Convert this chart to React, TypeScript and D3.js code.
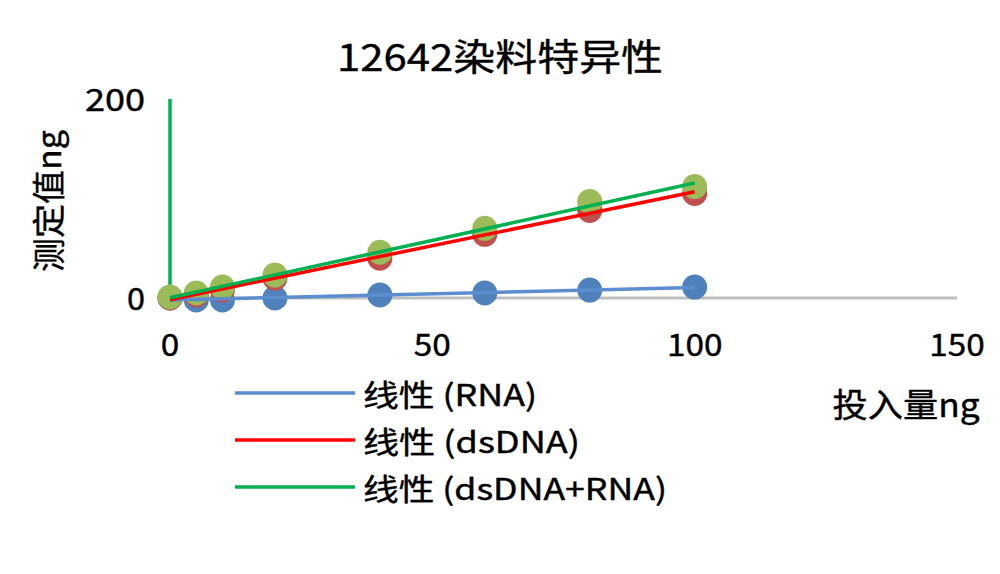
import React from "react";
import * as d3 from "d3";

const inputs = [0, 5, 10, 20, 40, 60, 80, 100];
const rnaValues = [0, -2, -2, 0, 3, 5, 8, 11];
const dsdnaValues = [0, 3, 8, 20, 40, 64, 88, 105];
const mixValues = [1, 5, 11, 23, 46, 70, 97, 112];
const xTicks = [0, 50, 100, 150];
const yTicks = [0, 200];
const title = "12642染料特异性";
const xTitle = "投入量ng";
const yTitle = "测定值ng";
const legendLabels = ["线性 (RNA)", "线性 (dsDNA)", "线性 (dsDNA+RNA)"];

const W = 1000;
const H = 574;
const FONT = "'Noto Sans CJK SC', 'Noto Sans', sans-serif";
const WEIGHT = 400;

function fit(xs: number[], ys: number[]) {
  const mx = d3.mean(xs) as number;
  const my = d3.mean(ys) as number;
  let num = 0;
  let den = 0;
  xs.forEach((x, i) => {
    num += (x - mx) * (ys[i] - my);
    den += (x - mx) * (x - mx);
  });
  const b = num / den;
  const a = my - b * mx;
  return (x: number) => a + b * x;
}

export default function App() {
  const x = d3.scaleLinear().domain([0, 150]).range([170, 957]);
  const y = d3.scaleLinear().domain([0, 200]).range([298, 99]);

  const series = [
    { values: rnaValues, marker: "#4F81BD", line: "#5B8DCF" },
    { values: dsdnaValues, marker: "#C0504D", line: "#FF0000" },
    { values: mixValues, marker: "#9BBB59", line: "#00B050" },
  ];

  const xEnd = d3.max(inputs) as number;

  return (
    <svg width={W} height={H} style={{ display: "block", position: "absolute", left: 0, top: 0 }}>
      <rect x={0} y={0} width={W} height={H} fill="#ffffff" />
      <text
        x={500}
        y={55}
        textAnchor="middle"
        dominantBaseline="central"
        fontFamily={FONT}
        fontWeight={WEIGHT}
        fontSize={37}
        textLength={326}
        lengthAdjust="spacingAndGlyphs"
        fill="#000"
        stroke="#000"
        strokeWidth={0.4}
      >
        {title}
      </text>

      {/* axes */}
      <line x1={x(0)} x2={x(150)} y1={y(0)} y2={y(0)} stroke="#BFBFBF" strokeWidth={3} />
      <line x1={x(0)} x2={x(0)} y1={y(0)} y2={y(200)} stroke="#00B050" strokeWidth={3.5} />

      {yTicks.map((t) => (
        <text
          key={"y" + t}
          x={145}
          y={y(t) - 2}
          textAnchor="end"
          dominantBaseline="central"
          fontFamily={FONT}
          fontWeight={WEIGHT}
          fontSize={31}
          textLength={t === 0 ? 18 : 60}
          lengthAdjust="spacingAndGlyphs"
          fill="#000"
          stroke="#000"
          strokeWidth={0.4}
        >
          {t}
        </text>
      ))}
      {xTicks.map((t) => (
        <text
          key={"x" + t}
          x={x(t)}
          y={342}
          textAnchor="middle"
          dominantBaseline="central"
          fontFamily={FONT}
          fontWeight={WEIGHT}
          fontSize={31}
          textLength={String(t).length * 18.5}
          lengthAdjust="spacingAndGlyphs"
          fill="#000"
          stroke="#000"
          strokeWidth={0.4}
        >
          {t}
        </text>
      ))}

      <text
        transform={`translate(47,201) rotate(-90)`}
        textAnchor="middle"
        dominantBaseline="central"
        fontFamily={FONT}
        fontWeight={WEIGHT}
        fontSize={33}
        textLength={142}
        lengthAdjust="spacingAndGlyphs"
        fill="#000"
        stroke="#000"
        strokeWidth={0.4}
      >
        {yTitle}
      </text>
      <text
        x={906}
        y={403}
        textAnchor="middle"
        dominantBaseline="central"
        fontFamily={FONT}
        fontWeight={WEIGHT}
        fontSize={33}
        textLength={147}
        lengthAdjust="spacingAndGlyphs"
        fill="#000"
        stroke="#000"
        strokeWidth={0.4}
      >
        {xTitle}
      </text>

      {/* markers */}
      {series.map((s, si) => (
        <g key={"m" + si}>
          {inputs.map((xi, i) => (
            <circle key={i} cx={x(xi)} cy={y(s.values[i])} r={12.5} fill={s.marker} />
          ))}
        </g>
      ))}

      {/* trendlines */}
      {series.map((s, si) => {
        const f = fit(inputs, s.values);
        const pts: [number, number][] = [
          [x(0), y(f(0))],
          [x(xEnd), y(f(xEnd))],
        ];
        return (
          <path
            key={"t" + si}
            d={d3.line()(pts) as string}
            stroke={s.line}
            strokeWidth={3.5}
            fill="none"
          />
        );
      })}

      {/* legend */}
      {legendLabels.map((lab, i) => {
        const ly = 393 + i * 47;
        const lens = [174, 217, 304];
        return (
          <g key={"l" + i}>
            <line x1={235} x2={355} y1={ly} y2={ly} stroke={series[i].line} strokeWidth={3.5} />
            <text
              x={363}
              y={ly}
              dominantBaseline="central"
              fontFamily={FONT}
              fontWeight={WEIGHT}
              fontSize={30}
              textLength={lens[i]}
              lengthAdjust="spacingAndGlyphs"
              fill="#000"
              stroke="#000"
              strokeWidth={0.4}
            >
              {lab}
            </text>
          </g>
        );
      })}
    </svg>
  );
}
